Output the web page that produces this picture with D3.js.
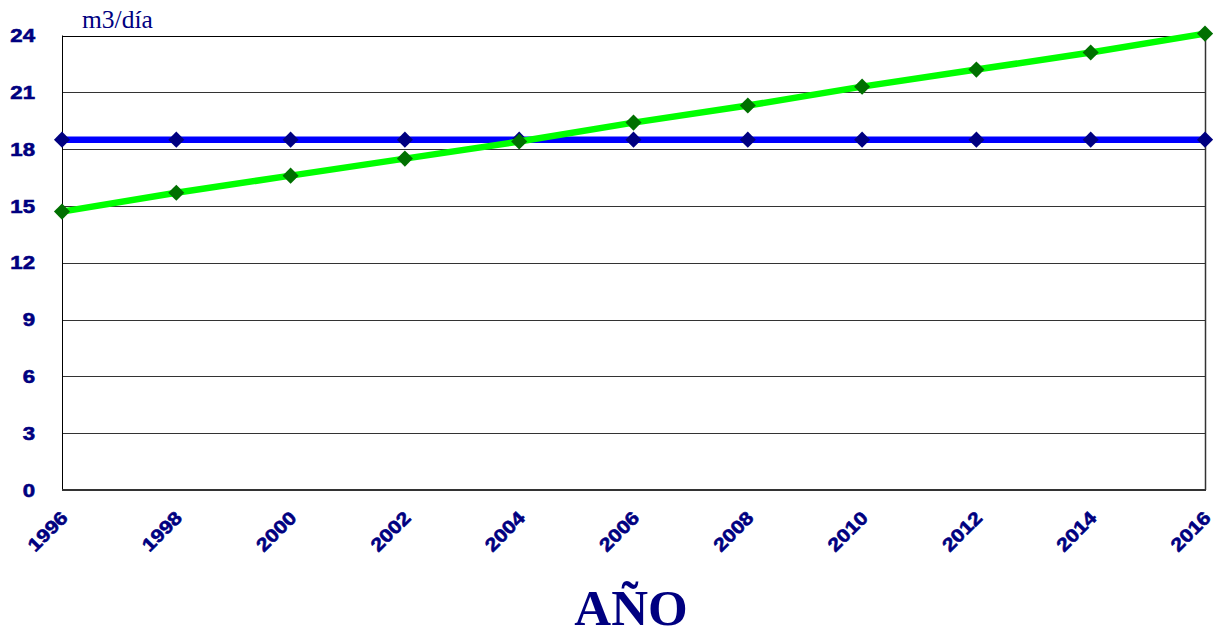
<!DOCTYPE html>
<html>
<head>
<meta charset="utf-8">
<script src="https://cdn.jsdelivr.net/npm/d3@7"></script>
<style>
  body { margin: 0; background: #fff; }
  svg { display: block; }
</style>
</head>
<body>
<svg id="chart" width="1213" height="630"></svg>
<script>
// Years on the horizontal axis
const years = [1996, 1998, 2000, 2002, 2004, 2006, 2008, 2010, 2012, 2014, 2016];
// Available supply (flat) in m3/día
const supply = [18.5, 18.5, 18.5, 18.5, 18.5, 18.5, 18.5, 18.5, 18.5, 18.5, 18.5];
// Projected demand in m3/día
const demand = [14.7, 15.7, 16.6, 17.5, 18.4, 19.4, 20.3, 21.3, 22.2, 23.1, 24.1];
// Y axis ticks
const yTicks = [0, 3, 6, 9, 12, 15, 18, 21, 24];

const svg = d3.select("#chart");
const plot = { left: 62, right: 1205, top: 35.5, bottom: 490 };
const navy = "#000080";
const tickFont = "Liberation Sans, Arial, sans-serif";

const x = d3.scaleLinear().domain([1996, 2016]).range([plot.left, plot.right]);
const y = d3.scaleLinear().domain([0, 24]).range([plot.bottom, plot.top]);

// Horizontal gridlines
svg.append("g").selectAll("line")
  .data(yTicks.filter(d => d > 0))
  .join("line")
  .attr("x1", plot.left).attr("x2", plot.right)
  .attr("y1", d => Math.round(y(d)) + 0.5).attr("y2", d => Math.round(y(d)) + 0.5)
  .attr("stroke", d => d === 24 ? "#000" : "#333")
  .attr("stroke-width", 1);

// Plot frame: left axis, right edge, bottom axis
svg.append("line").attr("x1", plot.left + 0.5).attr("x2", plot.left + 0.5)
  .attr("y1", plot.top).attr("y2", plot.bottom).attr("stroke", "#000");
svg.append("line").attr("x1", plot.right + 0.5).attr("x2", plot.right + 0.5)
  .attr("y1", plot.top).attr("y2", plot.bottom).attr("stroke", "#333").attr("stroke-width", 1.5);
svg.append("line").attr("x1", plot.left).attr("x2", plot.right + 1)
  .attr("y1", plot.bottom).attr("y2", plot.bottom).attr("stroke", "#333").attr("stroke-width", 2);

// Y tick labels (wide heavy face)
svg.append("g").selectAll("text")
  .data(yTicks)
  .join("text")
  .attr("transform", d => `translate(35,${y(d)}) scale(1.2,1)`)
  .attr("dy", "0.36em")
  .attr("text-anchor", "end")
  .attr("font-family", tickFont)
  .attr("font-weight", "bold")
  .attr("font-size", 18.5)
  .attr("fill", navy)
  .attr("stroke", navy)
  .attr("stroke-width", 0.6)
  .text(d => d);

// X tick labels, rotated
svg.append("g").selectAll("text")
  .data(years)
  .join("text")
  .attr("transform", d => `translate(${x(d) + 7},${519}) rotate(-45) scale(1.16,1)`)
  .attr("text-anchor", "end")
  .attr("font-family", tickFont)
  .attr("font-weight", "bold")
  .attr("font-size", 18.5)
  .attr("fill", navy)
  .attr("stroke", navy)
  .attr("stroke-width", 0.6)
  .text(d => d);

// Unit label
svg.append("text")
  .attr("x", 82).attr("y", 28)
  .attr("font-family", "Liberation Serif, Times New Roman, serif")
  .attr("font-size", 25.5)
  .attr("fill", navy)
  .text("m3/día");

// Axis title
svg.append("text")
  .attr("x", 631).attr("y", 625)
  .attr("text-anchor", "middle")
  .attr("font-family", "Liberation Serif, Times New Roman, serif")
  .attr("font-weight", "bold")
  .attr("font-size", 51)
  .attr("fill", navy)
  .text("AÑO");

const line = d3.line().x((d, i) => x(years[i])).y(d => y(d));
const diamond = d3.symbol().type(d3.symbolDiamond2).size(165);

function series(values, lineColor, markColor) {
  const g = svg.append("g");
  g.append("path")
    .attr("d", line(values))
    .attr("fill", "none")
    .attr("stroke", lineColor)
    .attr("stroke-width", 6.5);
  g.selectAll("path.m")
    .data(values)
    .join("path")
    .attr("class", "m")
    .attr("transform", (d, i) => `translate(${x(years[i])},${y(d)})`)
    .attr("d", diamond)
    .attr("fill", markColor);
}

series(supply, "#0000ff", navy);
series(demand, "#00ff00", "#007000");
</script>
</body>
</html>
